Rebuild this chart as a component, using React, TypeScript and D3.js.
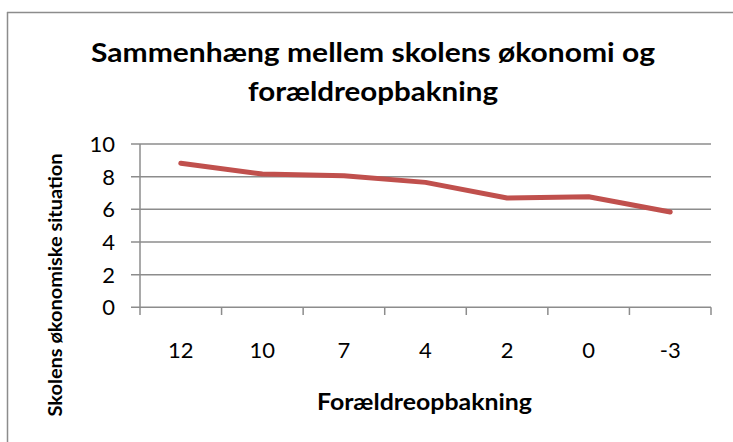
import React from "react";
import * as d3 from "d3";

const categories = ["12", "10", "7", "4", "2", "0", "-3"];
const values = [8.82, 8.16, 8.06, 7.65, 6.69, 6.77, 5.84];
const yTicks = [0, 2, 4, 6, 8, 10];
const titleLines = ["Sammenhæng mellem skolens økonomi og", "forældreopbakning"];
const xTitle = "Forældreopbakning";
const yTitle = "Skolens økonomiske situation";

const FONT = "Lato, 'Open Sans', sans-serif";
const GRID = "#8c8c8c";

export default function App() {
  const W = 733;
  const H = 442;
  const left = 140;
  const right = 711;
  const top = 144;
  const bottom = 307.3;

  const x = d3.scaleBand<string>().domain(categories).range([left, right]).padding(0);
  const y = d3.scaleLinear().domain([0, 10]).range([bottom, top]);
  const cx = (c: string) => (x(c) as number) + x.bandwidth() / 2;

  const linePath = d3
    .line<number>()
    .x((_, i) => cx(categories[i]))
    .y((d) => y(d))(values) as string;

  const boundaries = categories.map((c) => x(c) as number).concat([right]);

  return (
    <svg
      width={W}
      height={H}
      viewBox={`0 0 ${W} ${H}`}
      style={{ position: "fixed", left: 0, top: 0, background: "#fff" }}
    >
      <rect x={0} y={0} width={W} height={H} fill="#fff" />
      {/* outer frame (top and left visible) */}
      <line x1={7} y1={12.5} x2={W} y2={12.5} stroke={GRID} strokeWidth={1.5} />
      <line x1={7.5} y1={12} x2={7.5} y2={H} stroke={GRID} strokeWidth={1.5} />

      {/* title */}
      <text x={373} y={62} textAnchor="middle" fontFamily={FONT} fontWeight="bold" fontSize={26} fill="#000"
        textLength={564} lengthAdjust="spacingAndGlyphs">{titleLines[0]}</text>
      <text x={373} y={101} textAnchor="middle" fontFamily={FONT} fontWeight="bold" fontSize={26} fill="#000"
        textLength={250} lengthAdjust="spacingAndGlyphs">{titleLines[1]}</text>

      {/* gridlines + y ticks */}
      {yTicks.map((t) => (
        <g key={t}>
          <line x1={131} x2={right} y1={y(t)} y2={y(t)} stroke={GRID} strokeWidth={1.5} />
          <text x={115} y={y(t) + 8} textAnchor="end" fontFamily={FONT} fontSize={22} fill="#000">
            {t}
          </text>
        </g>
      ))}

      {/* y axis line */}
      <line x1={left} x2={left} y1={top} y2={bottom} stroke={GRID} strokeWidth={1.5} />

      {/* x ticks */}
      {boundaries.map((b, i) => (
        <line key={i} x1={b} x2={b} y1={bottom} y2={315} stroke={GRID} strokeWidth={1.5} />
      ))}
      {categories.map((c) => (
        <text key={c} x={cx(c)} y={358} textAnchor="middle" fontFamily={FONT} fontSize={22} fill="#000">
          {c}
        </text>
      ))}

      {/* data line */}
      <path d={linePath} fill="none" stroke="#C0504D" strokeWidth={5}
        strokeLinecap="round" strokeLinejoin="round" />

      {/* axis titles */}
      <text x={317} y={410} fontFamily={FONT} fontWeight="bold" fontSize={22} fill="#000"
        textLength={215} lengthAdjust="spacingAndGlyphs">{xTitle}</text>
      <text transform="translate(61.5,416.5) rotate(-90)" x={0} y={0} fontFamily={FONT}
        fontWeight="bold" fontSize={19} fill="#000" textLength={263}
        lengthAdjust="spacingAndGlyphs">{yTitle}</text>
    </svg>
  );
}
